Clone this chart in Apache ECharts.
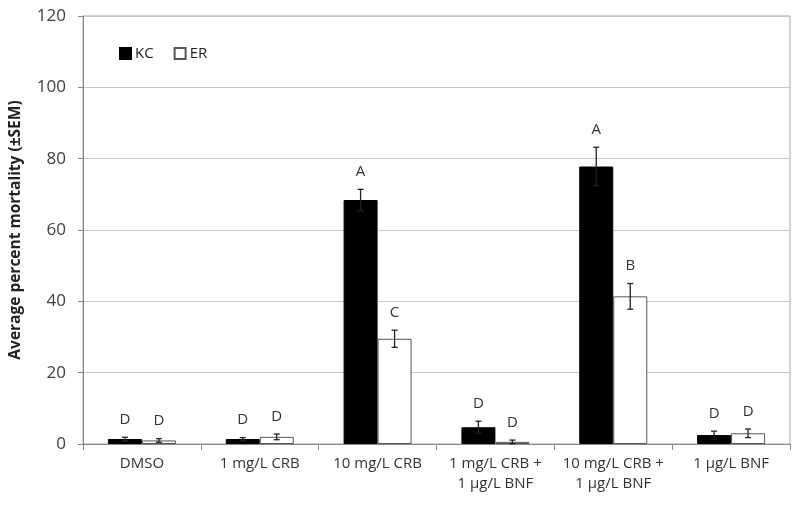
<!DOCTYPE html>
<html><head><meta charset="utf-8">
<script src="https://cdn.jsdelivr.net/npm/echarts@6/dist/echarts.min.js"></script>
<style>html,body{margin:0;padding:0;background:#fff}#c{width:800px;height:508px}</style>
</head><body><div id="c"></div>
<script>
const categories = ['DMSO', '1 mg/L CRB', '10 mg/L CRB', '1 mg/L CRB +\n1 µg/L BNF', '10 mg/L CRB +\n1 µg/L BNF', '1 µg/L BNF'];
const kcValues = [1.4, 1.4, 68.4, 4.7, 77.8, 2.5];
const kcSem = [0.5, 0.4, 3.0, 1.7, 5.4, 1.1];
const kcLetters = ['D', 'D', 'A', 'D', 'A', 'D'];
const erValues = [1.0, 2.0, 29.5, 0.6, 41.4, 3.0];
const erSem = [0.5, 0.8, 2.4, 0.5, 3.6, 1.2];
const erLetters = ['D', 'D', 'C', 'D', 'B', 'D'];
const yTicks = [0, 20, 40, 60, 80, 100, 120];

const FONT = '"Open Sans", "Liberation Sans", sans-serif';
const BAR_W = 34;

function errData(vals, sems, letters) {
  return vals.map((v, i) => [i, v, sems[i], letters[i]]);
}
function makeRender(side) {
  return function (params, api) {
    const i = api.value(0), v = api.value(1), s = api.value(2);
    const letter = api.value(3);
    const c = api.coord([i, v]);
    const x = c[0] + side * BAR_W / 2;
    const top = api.coord([i, v + s])[1];
    const bot = api.coord([i, Math.max(0, v - s)])[1];
    const st = { stroke: '#222', lineWidth: 1.3 };
    return {
      type: 'group',
      children: [
        { type: 'line', shape: { x1: x, y1: top, x2: x, y2: bot }, style: st },
        { type: 'line', shape: { x1: x - 3, y1: top, x2: x + 3, y2: top }, style: st },
        { type: 'line', shape: { x1: x - 3, y1: bot, x2: x + 3, y2: bot }, style: st },
        { type: 'text', x: x, y: top - 10, style: { text: letter, fill: '#333', font: '15px ' + FONT, textAlign: 'center', textVerticalAlign: 'bottom' } }
      ]
    };
  };
}

const chart = echarts.init(document.getElementById('c'), null, { renderer: 'canvas' });
chart.setOption({
  animation: false,
  backgroundColor: '#fff',
  grid: { left: 83, right: 10, top: 16, bottom: 64, containLabel: false, outerBoundsMode: 'none',
    show: true, borderColor: '#a6a6a6', borderWidth: 1, backgroundColor: 'transparent' },
  legend: {
    left: 114, top: 41, itemWidth: 11, itemHeight: 11, itemGap: 20,
    data: [
      { name: 'KC', icon: 'rect' },
      { name: 'ER', icon: 'rect' }
    ],
    textStyle: { fontFamily: FONT, fontSize: 15, color: '#222', padding: [0, 0, 0, -1] }
  },
  xAxis: {
    type: 'category', data: categories,
    axisLine: { lineStyle: { color: '#888', width: 1 } },
    axisTick: { show: true, length: 6, lineStyle: { color: '#888' }, alignWithLabel: false },
    axisLabel: { fontFamily: FONT, fontSize: 15, color: '#333', margin: 10, lineHeight: 20, interval: 0 }
  },
  yAxis: {
    type: 'value', min: 0, max: 120, interval: 20,
    name: 'Average percent mortality (±SEM)', nameLocation: 'middle', nameGap: 59,
    nameTextStyle: { fontFamily: FONT, fontSize: 15.5, fontWeight: 'bold', color: '#222' },
    axisLine: { show: true, lineStyle: { color: '#888' } },
    axisTick: { show: true, length: 5, lineStyle: { color: '#888' } },
    axisLabel: { fontFamily: FONT, fontSize: 17, color: '#404040', margin: 17,
      formatter: v => yTicks.includes(v) ? String(v) : '' },
    splitLine: { lineStyle: { color: '#c8c8c8', width: 1 } }
  },
  series: [
    { name: 'KC', type: 'bar', data: kcValues, barWidth: BAR_W, barGap: '0%',
      itemStyle: { color: '#000', borderColor: '#000', borderWidth: 1 } },
    { name: 'ER', type: 'bar', data: erValues, barWidth: BAR_W, barGap: '0%',
      itemStyle: { color: '#fff', borderColor: '#555', borderWidth: 1 } },
    { name: 'kcErr', type: 'custom', data: errData(kcValues, kcSem, kcLetters), renderItem: makeRender(-1), z: 5 },
    { name: 'erErr', type: 'custom', data: errData(erValues, erSem, erLetters), renderItem: makeRender(1), z: 5 }
  ]
});
</script></body></html>
